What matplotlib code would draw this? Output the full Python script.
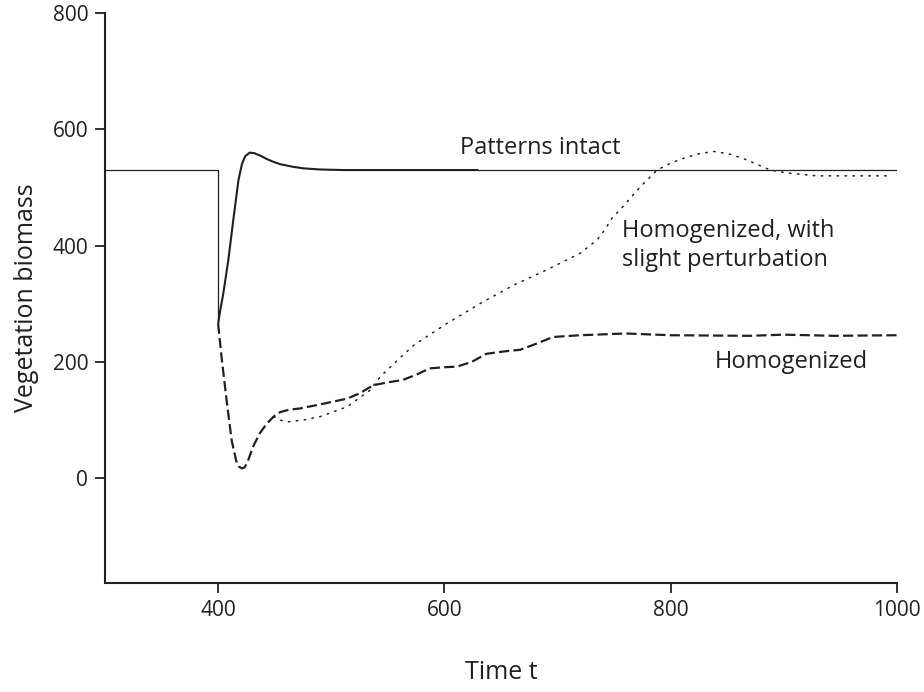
import matplotlib
matplotlib.use("Agg")
import matplotlib.pyplot as plt

plt.rcParams['font.family'] = ['Open Sans', 'DejaVu Sans']

# Patterns intact: equilibrium before the disturbance, then recovery
pre_t = [300, 400, 400]
pre_v = [530, 530, 266]
intact_t = [400, 402, 404.6, 409, 413.4, 418, 421, 424, 428, 432, 437, 443, 449, 455,
            465, 475, 490, 510, 540, 580, 630]
intact_v = [266, 290, 318, 375, 444, 513, 540, 554, 560, 559, 555, 549, 544, 540,
            536, 533, 531, 530, 530, 530, 530]
intact_tail_t = [630, 1000]
intact_tail_v = [530, 530]

# Homogenized
homog_t = [400, 403, 407.5, 412, 416, 418.5, 421, 423.5, 426, 431, 437, 443, 449, 455, 463,
           472, 490, 514, 525, 537, 550, 563, 575, 587, 600, 611, 624, 637, 652, 667,
           682, 696, 720, 760, 800, 870, 900, 944, 1000]
homog_v = [266, 209, 134, 65, 30, 20, 17, 19, 28, 55, 78, 94, 106, 114, 118,
           120, 127, 137, 146, 160, 165, 169, 178, 189, 191, 192, 200, 214, 218, 221,
           232, 243, 246, 249, 246, 245, 247, 245, 246]

# Homogenized, with slight perturbation
pert_t = [449, 455, 461, 475, 490, 514, 534, 543, 558, 573, 602, 632, 661, 690, 720, 735,
          742, 749, 755, 773, 788, 800, 811, 825, 838, 851, 864, 876, 888, 903, 929, 994]
pert_v = [106, 100, 97, 100, 106, 123, 151, 174, 202, 229, 266, 301, 332, 358, 387, 410,
          428, 450, 461, 501, 530, 542, 550, 558, 562, 558, 550, 540, 530, 525, 520, 520]

x_ticks = [400, 600, 800, 1000]
y_ticks = [0, 200, 400, 600, 800]

fig = plt.figure(figsize=(9.24, 6.92), dpi=100)
ax = fig.add_axes([0.1136, 0.1575, 0.8572, 0.8237])

ink = '#231f20'
ax.plot(pre_t, pre_v, color=ink, lw=0.9)
ax.plot(intact_t, intact_v, color=ink, lw=1.5, solid_capstyle='butt',
        solid_joinstyle='round')
ax.plot(intact_tail_t, intact_tail_v, color=ink, lw=0.9)
ax.plot(homog_t, homog_v, color=ink, lw=1.6, dashes=(4.6, 1.9))
ax.plot(pert_t, pert_v, color=ink, lw=1.1, dashes=(1.0, 4.2), dash_capstyle='round')

ax.set_xlim(300, 1000)
ax.set_ylim(-180, 800)
ax.set_xticks(x_ticks)
ax.set_yticks(y_ticks)

for s in ['top', 'right']:
    ax.spines[s].set_visible(False)
for s in ['left', 'bottom']:
    ax.spines[s].set_linewidth(1.5)
    ax.spines[s].set_color(ink)

ax.tick_params(axis='both', direction='out', length=7, width=1.3, colors=ink,
               labelsize=15, pad=5)

ax.set_xlabel('Time t', fontsize=18, color=ink, labelpad=28)
ax.set_ylabel('Vegetation biomass', fontsize=18, color=ink, labelpad=10)

ax.text(614, 568, 'Patterns intact', fontsize=17, color=ink, ha='left', va='center')
ax.text(757, 400, 'Homogenized, with\nslight perturbation', fontsize=17, color=ink,
        ha='left', va='center', linespacing=1.3)
ax.text(838.5, 200, 'Homogenized', fontsize=17, color=ink, ha='left', va='center')

fig.savefig('out.png', dpi=100, facecolor='white')
